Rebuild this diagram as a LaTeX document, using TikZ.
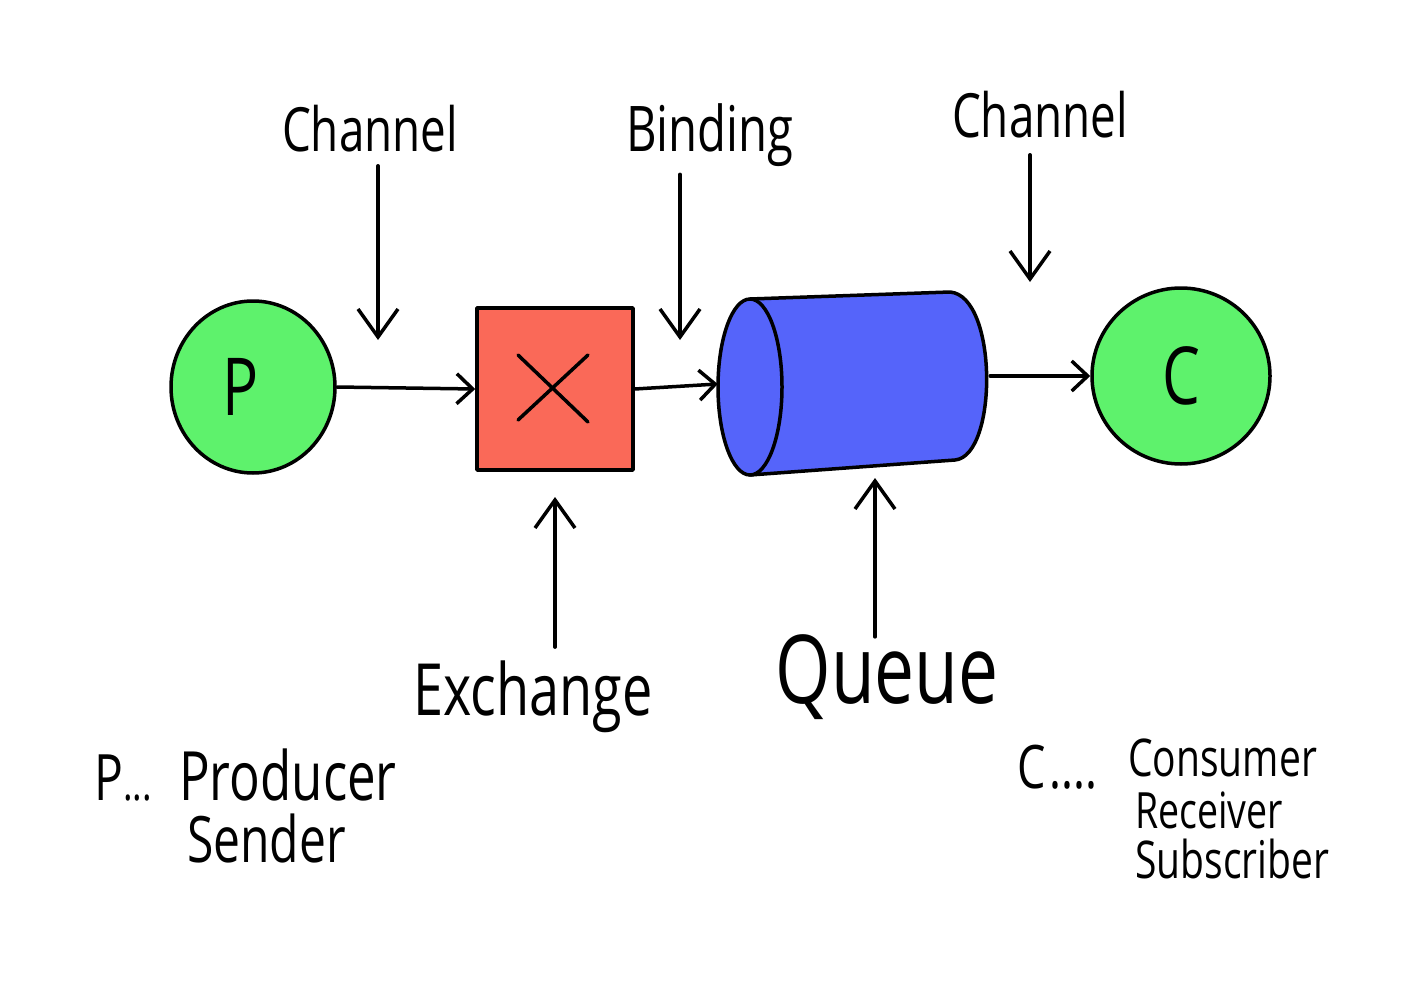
\documentclass[tikz,border=0pt]{standalone}
\usepackage{fontspec}
\setmainfont{Open Sans}[FakeStretch=0.75]
\usetikzlibrary{arrows.meta,shapes.geometric}
\definecolor{pgreen}{RGB}{94,242,108}
\definecolor{xred}{RGB}{250,105,88}
\definecolor{qblue}{RGB}{85,100,250}
\newcommand{\fs}[1]{\fontsize{#1}{#1}\selectfont}
\begin{document}
\begin{tikzpicture}[x=1pt,y=-1pt,
  ink/.style={line width=3.5pt,draw=black,line cap=round,line join=round},
  harr/.style={ink,-{Straight Barb[length=16pt,width=30pt,line width=3.5pt]}},
  varr/.style={ink,-{Straight Barb[length=28pt,width=40pt,line width=3.5pt]}},
  lbl/.style={inner sep=1pt,text=black},
  endpt/.style={ellipse,ink,fill=pgreen,minimum width=164pt,minimum height=172pt,inner sep=0pt}
]
\useasboundingbox (0,0) rectangle (1412,992);
\fill[white] (0,0) rectangle (1412,992);

% Producer and consumer
\node[endpt] (P) at (253,387) {\fs{80}\hspace*{-24pt}P};
\node[endpt,minimum width=178pt,minimum height=176pt] (C) at (1181,376) {\fs{80}C};

% Exchange
\node[ink,fill=xred,minimum width=156pt,minimum height=162pt,inner sep=0pt] (X) at (555,389) {};
\draw[ink] (518,355) -- (588,422);
\draw[ink] (588,355) -- (518,420);

% Queue (cylinder)
\node[inner sep=0pt,minimum width=272pt,minimum height=183pt] (Q) at (854,384) {};
\filldraw[ink,fill=qblue] (750,299) -- (950,292) .. controls (998,296) and (998,456) .. (955,460) -- (750,475) -- cycle;
\filldraw[ink,fill=qblue] (750,387) ellipse [x radius=32, y radius=88];

% main flow
\draw[harr] (P.east) -- (X.west);
\draw[harr] (X.east) -- (Q.west);
\draw[harr] (Q.east |- C.west) -- (C.west);

% top labels
\node[lbl,anchor=base] (ch1) at (370,152) {\fs{61}Channel};
\node[lbl,anchor=base] (bind) at (710,152) {\fs{63}Binding};
\node[lbl,anchor=base] (ch2) at (1040,138) {\fs{61}Channel};
\coordinate (ch1end) at (378,340);
\coordinate (bindend) at (680,340);
\coordinate (ch2end) at (1030,282);
\draw[varr] ([yshift=-12pt]ch1end |- ch1.south) -- (ch1end);
\draw[varr] ([yshift=-6pt]bindend |- bind.south) -- (bindend);
\draw[varr] ([yshift=-15pt]ch2end |- ch2.south) -- (ch2end);

% bottom labels
\node[lbl,anchor=base] (exl) at (533,715) {\fs{72}Exchange};
\node[lbl,anchor=base] (ql) at (887,703) {\fs{95}Queue};
\coordinate (exend) at (555,497);
\coordinate (qend) at (875,478);
\draw[varr] ([yshift=12pt]exend |- exl.north) -- (exend);
\draw[varr] ([yshift=-4pt]qend |- ql.north) -- (qend);

% legends
\node[lbl,anchor=base west] (pleg) at (93,800) {\fs{64}P{\fs{48}...}};
\node[lbl,anchor=base west] (prod) at (178,800) {\fs{68}Producer};
\node[lbl,anchor=base west] (sender) at (186,862) {\fs{64}Sender};
\node[lbl,anchor=base west] (cleg) at (1016,788) {\fs{60}C\hspace{4pt}....};
\node[lbl,anchor=base west,inner sep=0pt] (cons) at (1128,776) {\fs{52}Consumer};
\node[lbl,anchor=base west,inner sep=0pt] (recv) at (1135,828) {\fs{50}Receiver};
\node[lbl,anchor=base west,inner sep=0pt] (subs) at (1135,878) {\fs{52}Subscriber};
\end{tikzpicture}
\end{document}
